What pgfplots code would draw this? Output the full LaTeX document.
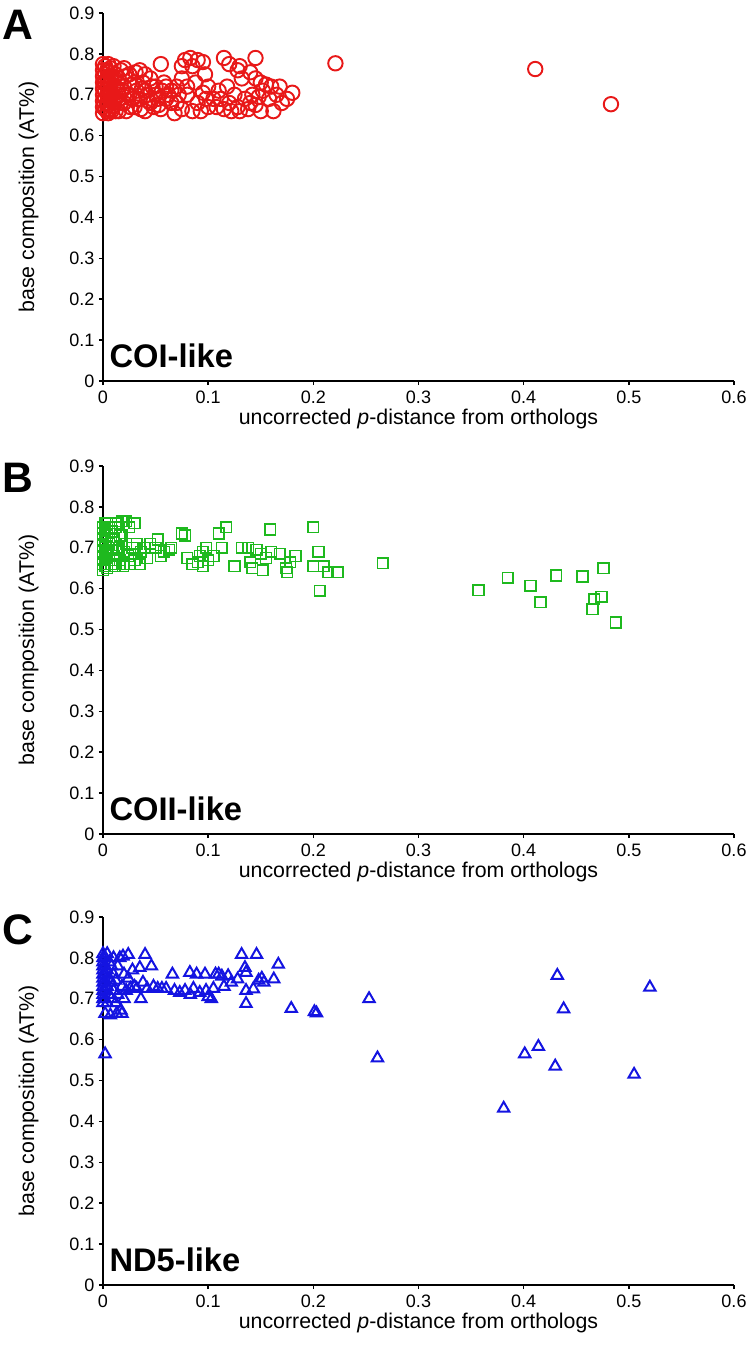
\documentclass[border=0pt]{standalone}
\usepackage{fontspec}
\setmainfont{Liberation Sans}
\usepackage{pgfplots}
\pgfplotsset{compat=1.18}
\definecolor{cred}{RGB}{232,24,24}
\definecolor{cgreen}{RGB}{30,185,30}
\definecolor{cblue}{RGB}{20,20,225}
\pgfplotsset{
  panel/.style={
    scale only axis, width=473.25pt, height=276pt,
    xmin=0, xmax=0.6, ymin=0, ymax=0.9,
    axis lines=left, axis line style={-, line width=1.5pt, black},
    xtick={0,0.1,...,0.6}, ytick={0,0.1,...,0.9},
    tick align=outside, major tick length=3pt,
    tick style={line width=1.2pt, black},
    clip=false,
    /pgf/number format/assume math mode=true,
    ticklabel style={font=\fontsize{13.5}{16}\selectfont},
    xticklabel style={yshift=-1pt},
    every axis y label/.style={at={(axis description cs:-0.118,0.5)},rotate=90,anchor=center},
    every axis x label/.style={at={(axis description cs:0.5,-0.103)},anchor=center},
    label style={font=\fontsize{16}{19}\selectfont},
    xlabel={uncorrected \textit{p}-distance from orthologs},
    ylabel={base composition (AT\%)},
  },
  circ/.style={only marks, mark=o, mark size=5.4pt, mark options={line width=1.45pt, draw=cred}},
  sqr/.style={only marks, mark=square, mark size=4.0pt, mark options={line width=1.2pt, draw=cgreen}},
  tri/.style={only marks, mark=triangle, mark size=4.9pt, mark options={line width=1.5pt, draw=cblue}},
}
\tikzset{
  plab/.style={anchor=north west, inner sep=0pt, font=\bfseries\fontsize{32}{36}\selectfont},
  ilab/.style={anchor=base west, inner sep=0pt, font=\bfseries\fontsize{24.5}{28}\selectfont},
}
\begin{document}
\begin{tikzpicture}
\useasboundingbox (0,0) rectangle (563.25pt,-1014pt);
% Panel A
\begin{axis}[panel, at={(77.25pt,-285.75pt)}, anchor=south west]
\addplot[circ] coordinates {
(0,0.655)(0,0.67)(0,0.685)(0,0.70)(0,0.715)(0,0.73)(0,0.745)(0,0.76)(0,0.775)
(0.002,0.665)(0.002,0.69)(0.002,0.71)(0.002,0.73)(0.002,0.75)(0.002,0.77)
(0.004,0.66)(0.004,0.68)(0.004,0.70)(0.004,0.72)(0.004,0.74)(0.004,0.76)
(0.005,0.655)(0.005,0.675)(0.005,0.695)(0.005,0.715)(0.005,0.735)(0.005,0.755)(0.005,0.775)
(0.007,0.665)(0.007,0.685)(0.007,0.705)(0.007,0.725)(0.007,0.745)(0.007,0.765)
(0.008,0.66)(0.008,0.70)(0.008,0.74)(0.01,0.77)(0.01,0.68)(0.01,0.72)(0.012,0.69)(0.012,0.75)(0.012,0.66)
(0.014,0.71)(0.014,0.73)(0.015,0.66)(0.015,0.74)(0.015,0.70)(0.017,0.68)(0.017,0.76)(0.018,0.71)
(0.02,0.765)(0.02,0.68)(0.02,0.72)(0.021,0.745)(0.022,0.66)(0.023,0.70)
(0.025,0.75)(0.025,0.70)(0.026,0.67)(0.027,0.725)(0.028,0.69)(0.03,0.73)(0.03,0.67)(0.031,0.755)
(0.032,0.71)(0.033,0.69)(0.035,0.76)(0.035,0.69)(0.036,0.665)(0.037,0.715)
(0.038,0.73)(0.04,0.66)(0.04,0.71)(0.04,0.75)(0.042,0.70)(0.043,0.685)(0.045,0.68)(0.045,0.74)
(0.047,0.72)(0.048,0.67)(0.05,0.70)(0.05,0.72)(0.052,0.69)(0.053,0.675)
(0.055,0.775)(0.055,0.665)(0.056,0.71)(0.058,0.73)(0.06,0.69)(0.06,0.72)(0.062,0.70)(0.065,0.71)(0.065,0.68)(0.068,0.655)
(0.07,0.68)(0.07,0.72)(0.072,0.70)(0.075,0.665)(0.075,0.74)(0.075,0.77)(0.078,0.785)(0.08,0.70)(0.08,0.72)
(0.083,0.79)(0.085,0.66)(0.085,0.77)(0.088,0.73)(0.09,0.785)(0.09,0.68)(0.093,0.66)(0.095,0.78)(0.095,0.705)
(0.097,0.75)(0.098,0.69)(0.10,0.67)(0.10,0.72)(0.105,0.69)(0.108,0.67)(0.11,0.71)(0.112,0.69)
(0.115,0.79)(0.115,0.665)(0.118,0.72)(0.12,0.775)(0.12,0.68)(0.122,0.66)(0.125,0.70)(0.128,0.76)(0.128,0.67)
(0.13,0.77)(0.13,0.66)(0.132,0.74)(0.135,0.69)(0.138,0.665)(0.14,0.755)(0.14,0.68)(0.142,0.70)
(0.145,0.79)(0.145,0.74)(0.145,0.675)(0.148,0.695)(0.15,0.73)(0.15,0.66)(0.152,0.71)(0.155,0.725)
(0.158,0.69)(0.16,0.72)(0.162,0.66)(0.165,0.70)(0.168,0.72)(0.17,0.68)(0.175,0.69)(0.18,0.705)
(0.221,0.777)(0.411,0.763)(0.483,0.677)
};
\node[ilab] at (axis cs:0.006,0.032) {COI-like};
\end{axis}
\node[plab] at (1.5pt,-7.5pt) {A};
% Panel B
\begin{axis}[panel, at={(77.25pt,-625.5pt)}, anchor=south west]
\addplot[sqr] coordinates {
(0,0.645)(0,0.66)(0,0.675)(0,0.69)(0,0.705)(0,0.72)(0,0.735)(0,0.75)
(0.002,0.655)(0.002,0.67)(0.002,0.685)(0.002,0.70)(0.002,0.715)(0.002,0.73)(0.002,0.745)(0.002,0.76)
(0.004,0.65)(0.004,0.69)(0.004,0.73)(0.004,0.76)(0.006,0.67)(0.006,0.71)(0.006,0.75)(0.008,0.66)(0.008,0.70)(0.008,0.74)
(0.01,0.68)(0.01,0.72)(0.011,0.655)(0.012,0.66)(0.012,0.75)(0.013,0.70)(0.014,0.76)(0.015,0.70)(0.016,0.67)(0.016,0.73)
(0.018,0.765)(0.018,0.73)(0.019,0.655)
(0.02,0.66)(0.02,0.69)(0.022,0.765)(0.022,0.71)(0.024,0.68)(0.025,0.75)(0.026,0.66)(0.028,0.70)(0.03,0.76)
(0.03,0.67)(0.032,0.71)(0.035,0.66)(0.036,0.69)(0.04,0.70)(0.042,0.675)(0.045,0.71)(0.05,0.70)(0.052,0.72)
(0.055,0.68)(0.058,0.69)(0.063,0.695)(0.065,0.70)(0.075,0.735)(0.078,0.73)(0.08,0.675)(0.085,0.66)
(0.09,0.665)(0.092,0.68)(0.095,0.69)(0.098,0.70)(0.095,0.655)(0.10,0.67)(0.105,0.68)(0.11,0.735)
(0.113,0.70)(0.117,0.75)(0.125,0.655)(0.132,0.70)(0.138,0.70)(0.14,0.665)(0.142,0.65)(0.146,0.695)
(0.15,0.685)(0.152,0.645)(0.155,0.675)(0.159,0.745)(0.16,0.69)(0.168,0.685)(0.174,0.65)(0.175,0.64)
(0.178,0.665)(0.183,0.68)(0.20,0.75)(0.20,0.655)(0.205,0.69)(0.206,0.595)(0.21,0.655)(0.214,0.64)(0.223,0.64)
(0.266,0.662)(0.357,0.596)(0.385,0.627)(0.4065,0.607)(0.416,0.567)(0.431,0.632)(0.456,0.63)
(0.476,0.65)(0.467,0.574)(0.474,0.58)(0.4655,0.55)(0.4876,0.517)
};
\node[ilab] at (axis cs:0.006,0.032) {COII-like};
\end{axis}
\node[plab] at (1.5pt,-347.25pt) {B};
% Panel C
\begin{axis}[panel, at={(77.25pt,-963.75pt)}, anchor=south west]
\addplot[tri] coordinates {
(0,0.69)(0,0.70)(0,0.71)(0,0.72)(0,0.73)(0,0.74)(0,0.75)(0,0.76)(0,0.77)(0,0.78)(0,0.79)(0,0.80)(0,0.81)
(0.002,0.70)(0.002,0.72)(0.002,0.74)(0.002,0.76)(0.002,0.78)(0.002,0.80)
(0.002,0.565)(0.002,0.664)(0.004,0.69)(0.004,0.73)(0.004,0.77)(0.004,0.81)(0.006,0.71)(0.006,0.75)(0.006,0.79)
(0.007,0.66)(0.008,0.70)(0.008,0.74)(0.008,0.78)(0.01,0.72)(0.01,0.76)(0.01,0.80)(0.012,0.69)(0.012,0.745)
(0.013,0.664)(0.014,0.71)(0.014,0.78)(0.016,0.80)(0.017,0.672)(0.018,0.664)(0.018,0.73)(0.019,0.804)
(0.02,0.76)(0.02,0.70)(0.022,0.72)(0.024,0.808)(0.024,0.75)(0.026,0.725)(0.028,0.77)(0.03,0.73)
(0.032,0.725)(0.035,0.776)(0.036,0.70)(0.038,0.74)(0.04,0.808)(0.042,0.725)(0.046,0.78)(0.048,0.73)
(0.052,0.725)(0.056,0.725)(0.06,0.725)(0.066,0.76)(0.068,0.72)(0.073,0.715)(0.078,0.72)(0.0826,0.764)
(0.083,0.71)(0.086,0.725)(0.089,0.76)(0.092,0.715)(0.097,0.76)(0.098,0.72)(0.10,0.705)(0.103,0.70)
(0.105,0.725)(0.107,0.76)(0.11,0.76)(0.113,0.755)(0.115,0.73)(0.119,0.756)(0.122,0.74)(0.128,0.748)
(0.1318,0.808)(0.135,0.776)(0.136,0.764)(0.136,0.72)(0.136,0.688)(0.143,0.724)(0.146,0.808)
(0.148,0.745)(0.151,0.75)(0.153,0.74)(0.1624,0.748)(0.1667,0.784)(0.179,0.676)(0.201,0.668)(0.203,0.665)
(0.253,0.70)(0.261,0.555)(0.381,0.432)(0.401,0.565)(0.414,0.583)(0.43,0.535)(0.432,0.757)(0.438,0.675)
(0.505,0.515)(0.52,0.728)
};
\node[ilab] at (axis cs:0.006,0.032) {ND5-like};
\end{axis}
\node[plab] at (1.5pt,-685.5pt) {C};
\end{tikzpicture}
\end{document}
